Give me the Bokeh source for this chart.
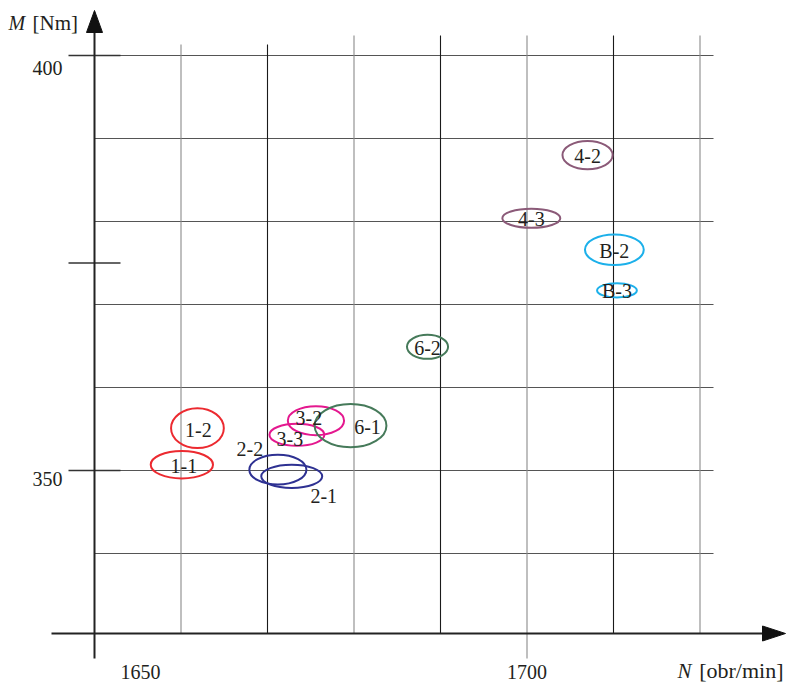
from bokeh.plotting import figure
from bokeh.models import Range1d
from bokeh.core.properties import value
from bokeh.embed import file_html
from bokeh.resources import INLINE

# Operating points: engine speed N [obr/min] vs torque M [Nm]
point_labels = ["1-1", "1-2", "2-2", "2-1", "3-3", "3-2", "6-1", "6-2", "4-3", "4-2", "B-2", "B-3"]
speed = [1660.1, 1661.9, 1671.2, 1672.8, 1673.4, 1675.6, 1679.6, 1688.5, 1700.5, 1707.0, 1710.1, 1710.4]
torque = [350.7, 355.1, 350.1, 349.3, 354.3, 356.0, 355.4, 364.9, 380.4, 388.0, 376.6, 371.7]
speed_spread = [7.2, 6.1, 6.6, 7.05, 6.35, 6.5, 8.3, 4.75, 6.7, 5.8, 6.8, 4.6]
torque_spread = [3.3, 4.8, 3.6, 2.8, 2.65, 3.5, 5.2, 2.9, 2.3, 3.4, 3.7, 1.7]

x_ticks = [1650, 1700]
x_tick_labels = ["1650", "1700"]
y_ticks = [400, 350]
y_tick_labels = ["400", "350"]
y_marks = [400, 375, 350]
x_grid = [1660, 1670, 1680, 1690, 1700, 1710, 1720]
y_grid = [340, 350, 360, 370, 380, 390, 400]

# colour per test group
group_colors = {
    "1": "#ec2a30", "2": "#2e3192", "3": "#e4188f",
    "6": "#467a5a", "4": "#8b5a78", "B": "#1cb0ea",
}
colors = [group_colors[lbl.split("-")[0]] for lbl in point_labels]

# label nudges in screen pixels (dx, dy down)
label_nudge = {"2-2": (-28, -21), "2-1": (32, 20), "6-1": (17, 1),
               "3-2": (-7, -3), "3-3": (-7, 4), "1-2": (1, 2), "1-1": (2, 1)}

W, H = 787, 682
PX_X, PX_Y = 8.65, 8.3          # pixels per data unit
X0 = 1650 - 94 / PX_X
Y1 = 350 + 470 / PX_Y

p = figure(width=W, height=H, output_backend="svg", toolbar_location=None,
           x_range=Range1d(X0, X0 + W / PX_X), y_range=Range1d(Y1 - H / PX_Y, Y1),
           min_border=0, outline_line_color=None)
p.axis.visible = False
p.grid.visible = False
p.background_fill_color = "white"
p.border_fill_color = "white"

def dx(px):
    return px / PX_X

def dy(px):
    return px / PX_Y

x_axis_y = 350 - dy(163)
y_min_ext = 350 - dy(188)
FONT = value("Liberation Serif")
INK = "#231f20"

# horizontal grid lines
p.segment(x0=[1650] * len(y_grid), y0=y_grid, x1=[1650 + dx(619)] * len(y_grid), y1=y_grid,
          line_color="#555555", line_width=1.2)
# short marks crossing the vertical axis
p.segment(x0=[1650 - dx(26)] * 3, y0=y_marks, x1=[1650 + dx(26)] * 3, y1=y_marks,
          line_color="#333333", line_width=1.5)

# vertical grid lines (alternating dark / grey)
v_colors = ["#8a8a8a", "#1a1a1a", "#8a8a8a", "#1a1a1a", "#8a8a8a", "#1a1a1a", "#8a8a8a"]
v_top = [400 + dy(11), 400 + dy(11), 400 + dy(20), 400 + dy(20), 400 + dy(20), 400 + dy(20), 400 + dy(20)]
v_bot = [x_axis_y, x_axis_y, x_axis_y, x_axis_y, y_min_ext, x_axis_y, x_axis_y]
p.segment(x0=x_grid, y0=v_bot, x1=x_grid, y1=v_top, line_color=v_colors, line_width=1.1)

# axes with arrow heads
p.segment(x0=[1650 - dx(43)], y0=[x_axis_y], x1=[1650 + dx(670)], y1=[x_axis_y],
          line_color="#222222", line_width=2)
p.segment(x0=[1650], y0=[y_min_ext], x1=[1650], y1=[350 + dy(440)],
          line_color="#222222", line_width=2)
tip_x = 1650 + dx(691)
p.patch(x=[tip_x, tip_x - dx(23), tip_x - dx(23)],
        y=[x_axis_y, x_axis_y + dy(7.5), x_axis_y - dy(7.5)], color="#111111")
tip_y = 350 + dy(460)
p.patch(x=[1650, 1650 - dx(8), 1650 + dx(8)],
        y=[tip_y, tip_y - dy(22), tip_y - dy(22)], color="#111111")

# operating point ellipses
p.ellipse(x=speed, y=torque, width=speed_spread, height=torque_spread,
          fill_color=None, line_color=colors, line_width=2)

xo = [label_nudge.get(l, (0, 1))[0] for l in point_labels]
yo = [label_nudge.get(l, (0, 1))[1] for l in point_labels]
p.text(x=speed, y=torque, text=point_labels, x_offset=xo, y_offset=yo,
       text_font=FONT, text_font_size="20px", text_color=INK,
       text_align="center", text_baseline="middle")

# tick labels
p.text(x=[1650 - dx(32)] * 2, y=y_ticks, text=y_tick_labels, y_offset=[12, 8],
       text_font=FONT, text_font_size="20px", text_color=INK,
       text_align="right", text_baseline="middle")
p.text(x=x_ticks, y=[x_axis_y] * 2, text=x_tick_labels, x_offset=[46, 0], y_offset=[38, 38],
       text_font=FONT, text_font_size="20px", text_color=INK,
       text_align="center", text_baseline="middle")

# axis titles
p.text(x=[1650 - dx(86)], y=[tip_y], text=["M"], y_offset=[12],
       text_font=FONT, text_font_style="italic", text_font_size="20px",
       text_color=INK, text_align="left", text_baseline="middle")
p.text(x=[1650 - dx(62)], y=[tip_y], text=["[Nm]"], y_offset=[12],
       text_font=FONT, text_font_size="21px", text_color=INK,
       text_align="left", text_baseline="middle")
p.text(x=[tip_x], y=[x_axis_y], text=["[obr/min]"], x_offset=[-2], y_offset=[37],
       text_font=FONT, text_font_size="22px", text_color=INK,
       text_align="right", text_baseline="middle")
p.text(x=[tip_x], y=[x_axis_y], text=["N"], x_offset=[-94], y_offset=[37],
       text_font=FONT, text_font_style="italic", text_font_size="21px",
       text_color=INK, text_align="right", text_baseline="middle")

open("out.html", "w").write(file_html(p, INLINE))
